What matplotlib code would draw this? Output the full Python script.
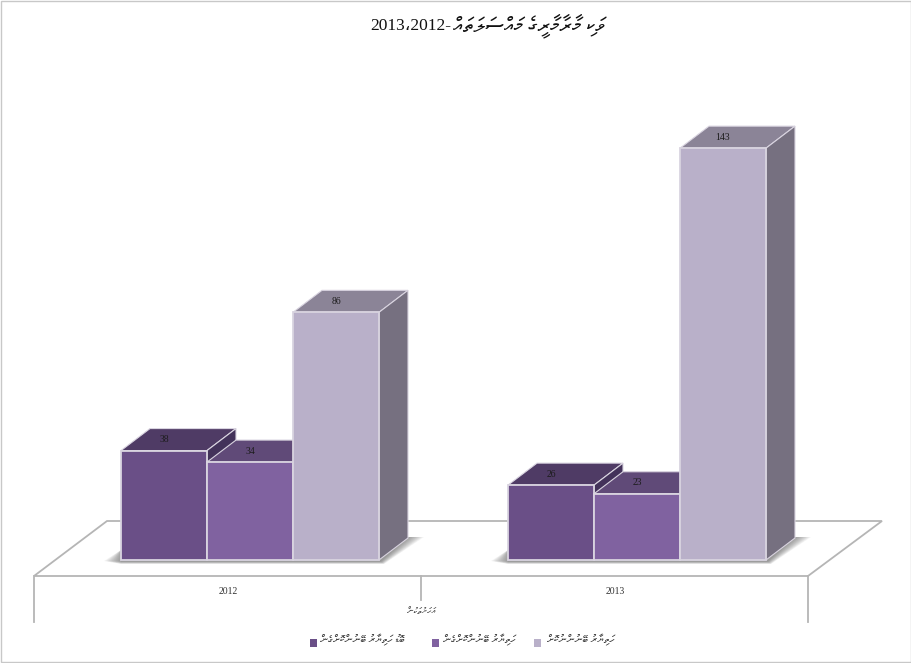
import matplotlib
matplotlib.use('Agg')
import matplotlib.pyplot as plt
from matplotlib.patches import Polygon

# chart values
years = ['2012', '2013']
series_major = [38, 26]
series_weapon = [34, 23]
series_none = [86, 143]

title_thaana = 'ވަކި މާރާމާރީގެ މައްސަލަތައް'
title_years = '2013،2012-'
axis_label = 'އަހަރުތަކުން'
legend_labels = ['ބޮޑު ހަތިޔާރު ބޭނުންކޮށްގެން',
                 'ހަތިޔާރު ބޭނުންކޮށްގެން',
                 'ހަތިޔާރު ބޭނުންނުކޮށް']

front_colors = ['#6a4f87', '#8062a0', '#b9b0c9']
top_colors = ['#4f3b65', '#604a78', '#8b8497']
side_colors = ['#43325a', '#55426b', '#767080']
edge = '#d9d4e0'
floor_color = '#b5b5b5'
thaana_font = ['FreeSerif', 'Noto Sans Thaana']

W, H = 912, 663
PX_X = 387.0   # pixels per category
PX_Y = 2.88    # pixels per unit
BAR_W = 86 / PX_X
DX = 29 / PX_X
DY = 22 / PX_Y


def visual(text):
    # matplotlib has no right-to-left layout, so lay the characters out reversed
    return text[::-1]


def px(x, y):
    # pixel position in the reference to data position, for the frame and floor
    return (x - 250) / PX_X, (560 - y) / PX_Y


fig = plt.figure(figsize=(W / 100, H / 100), dpi=100)
ax = fig.add_axes([0, 0, 1, 1])
ax.set_xlim(px(0, 0)[0], px(W, 0)[0])
ax.set_ylim(px(0, H)[1], px(0, 0)[1])
ax.axis('off')

# outer frame
ax.add_patch(plt.Rectangle(px(0.5, 661.5), 911 / PX_X, 661 / PX_Y, fc='white', ec='#c8c8c8', lw=1, zorder=0))

# floor
floor = [px(34, 576), px(808, 576), px(882, 521), px(107, 521)]
ax.add_patch(Polygon(floor, closed=True, fc='white', ec=floor_color, lw=1.3, zorder=1))
for x, y1 in [(34, 622), (421, 600), (808, 622)]:
    a, b = px(x, 576), px(x, y1)
    ax.plot([a[0], b[0]], [a[1], b[1]], color=floor_color, lw=1.3, zorder=1)

values = [series_major, series_weapon, series_none]

# soft shadows on the floor, drawn as stacked transparent shapes
for g in range(len(years)):
    left = g - 1.5 * BAR_W
    right = g + 1.5 * BAR_W
    for k in range(14):
        o = 1 - k / 13
        ax.add_patch(Polygon([(left - o * 17 / PX_X, -1 / PX_Y),
                              (left, -(1.5 + 2.5 * o) / PX_Y),
                              (right + (2 + 3 * o) / PX_X, -(1.5 + 2.5 * o) / PX_Y),
                              (right + DX + o * 16 / PX_X, DY + 1 / PX_Y),
                              (right + DX, DY + 1 / PX_Y),
                              (right, 10 / PX_Y),
                              (left, 10 / PX_Y)],
                             closed=True, fc='#555555', ec='none', alpha=0.06, zorder=2))

# bars: front faces come from ax.bar, tops and sides are offset by the depth
for i, (vals, fc, tc, sc) in enumerate(zip(values, front_colors, top_colors, side_colors)):
    zbase = 3 + i
    xs = [g + (i - 1) * BAR_W for g in range(len(years))]
    ax.bar(xs, vals, width=BAR_W, color=fc, edgecolor=edge, linewidth=1.3, zorder=zbase + 0.5)
    for x, v in zip(xs, vals):
        l, r = x - BAR_W / 2, x + BAR_W / 2
        ax.add_patch(Polygon([(l, v), (r, v), (r + DX, v + DY), (l + DX, v + DY)], closed=True,
                             fc=tc, ec=edge, lw=0.8, zorder=zbase))
        ax.add_patch(Polygon([(r, 0), (r + DX, DY), (r + DX, v + DY), (r, v)], closed=True,
                             fc=sc, ec=edge, lw=0.8, zorder=zbase))
        ax.text(x, v + DY / 2, str(v), ha='center', va='center', fontsize=7,
                family=['Liberation Serif'], color='#1c1c1c', zorder=10)

# category labels below the floor
for g, y in enumerate(years):
    ax.text(g - 22 / PX_X, px(0, 591)[1], y, ha='center', va='center', fontsize=7,
            family=['Liberation Serif'], color='#333333')

# title: thaana part on the right, year part on the left
ty = px(0, 26)[1]
ax.text(px(605, 0)[0], ty, visual(title_thaana), ha='right', va='center', fontsize=15,
        family=thaana_font, color='#111111')
ax.text(px(451, 0)[0], ty, title_years, ha='right', va='center', fontsize=12.5,
        family=['Liberation Serif', 'DejaVu Sans'], color='#111111')

ax.text(px(421, 0)[0], px(0, 612)[1], visual(axis_label), ha='center', va='center', fontsize=6.5,
        family=thaana_font, color='#333333')

# legend
legend_pos = [(310, 320), (432, 443), (534, 547)]
for (sq, tl), label, color in zip(legend_pos, legend_labels, front_colors):
    ax.add_patch(plt.Rectangle(px(sq, 647), 7 / PX_X, 8 / PX_Y, fc=color, ec='none', zorder=5))
    ax.text(px(tl, 0)[0], px(0, 640)[1], visual(label), ha='left', va='center', fontsize=8,
            family=thaana_font, color='#333333')

fig.savefig('out.png', dpi=100)
